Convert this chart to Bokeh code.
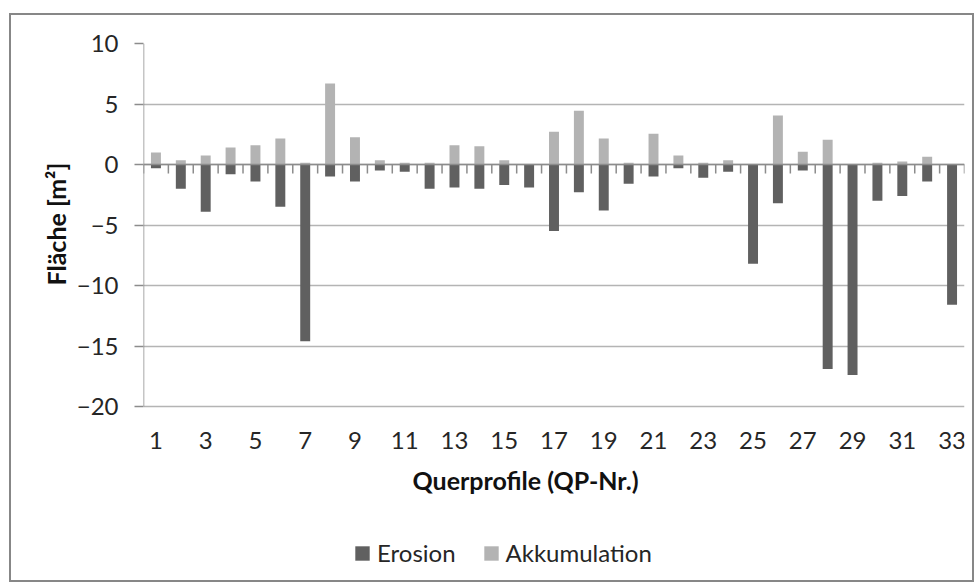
from bokeh.plotting import figure
from bokeh.models import (ColumnDataSource, Range1d, FixedTicker, Legend, LegendItem,
                          Title, Label)
from bokeh.embed import file_html
from bokeh.resources import INLINE

# ---- data ----
profiles = list(range(1, 34))
erosion = [-0.3, -2.0, -3.9, -0.8, -1.4, -3.5, -14.6, -1.0, -1.4, -0.5, -0.6, -2.0,
           -1.9, -2.0, -1.7, -1.9, -5.5, -2.3, -3.8, -1.6, -1.0, -0.3, -1.1, -0.6,
           -8.2, -3.2, -0.5, -16.9, -17.4, -3.0, -2.6, -1.4, -11.6]
akkumulation = [1.0, 0.35, 0.75, 1.4, 1.6, 2.15, 0.15, 6.7, 2.25, 0.35, 0.15, 0.15,
                1.6, 1.5, 0.35, 0.0, 2.7, 4.45, 2.15, 0.15, 2.55, 0.75, 0.15, 0.35,
                0.0, 4.05, 1.05, 2.05, 0.0, 0.15, 0.25, 0.65, 0.0]
y_ticks = [-20, -15, -10, -5, 0, 5, 10]
x_tick_labels = [p for p in profiles if p % 2 == 1]
y_min, y_max = -20, 10

FONT = "Lato"
DARK = "#606060"
LIGHT = "#b3b3b3"
AXIS = "#8c8c8c"
GRID = "#b4b4b4"

# layout (pixels, relative to the canvas' top-left corner)
OX, OY = 9, 13                  # where the chart box sits on the page
W, H = 965, 569
FRAME_L, FRAME_T, FRAME_R = 132, 28, 953
PLOT_B = 391                    # pixel row of y_min
FRAME_B = 565                   # frame extends below the value area to hold labels/legend
px_per_unit = (PLOT_B - FRAME_T) / (y_max - y_min)
y_start = y_min - (FRAME_B - PLOT_B) / px_per_unit
px_per_cat = (FRAME_R - FRAME_L) / len(profiles)

src = ColumnDataSource(dict(x=profiles, ero=erosion, akk=akkumulation))

p = figure(width=W, height=H, output_backend="svg", toolbar_location=None,
           x_range=Range1d(0.5, len(profiles) + 0.5), y_range=Range1d(y_start, y_max),
           min_border_left=FRAME_L, min_border_right=W - FRAME_R,
           min_border_top=FRAME_T, min_border_bottom=H - FRAME_B)
p.styles = {"border": "2px solid #878787",
            "margin-left": f"{OX}px", "margin-top": f"{OY}px"}
p.outline_line_color = None
p.background_fill_color = "white"
p.border_fill_color = "white"

# gridlines
p.xgrid.grid_line_color = None
p.ygrid.grid_line_color = GRID
p.ygrid.grid_line_width = 1.5

# bars
r_ero = p.vbar(x="x", top="ero", bottom=0, width=0.4, source=src,
               fill_color=DARK, line_color=None)
r_akk = p.vbar(x="x", top="akk", bottom=0, width=0.4, source=src,
               fill_color=LIGHT, line_color=None)

# category axis line at zero with tick marks between categories
x_lo, x_hi = profiles[0] - 0.5, profiles[-1] + 0.5
p.segment(x0=[x_lo], x1=[x_hi], y0=[0], y1=[0], line_color=AXIS, line_width=1.5)
bounds = [c - 0.5 for c in profiles] + [x_hi]
tick_len = 9 / px_per_unit
p.segment(x0=bounds, x1=bounds, y0=[0] * len(bounds), y1=[-tick_len] * len(bounds),
          line_color=AXIS, line_width=1.5)
# value axis line (only over the value range)
p.segment(x0=[x_lo], x1=[x_lo], y0=[y_min], y1=[y_max], line_color=AXIS, line_width=1.5)

# y axis
ya = p.yaxis[0]
ya.ticker = FixedTicker(ticks=y_ticks)
ya.axis_line_color = None
ya.major_tick_line_color = AXIS
ya.major_tick_line_width = 1.5
ya.major_tick_out = 9
ya.major_tick_in = 0
ya.minor_tick_line_color = None
ya.major_label_text_font = FONT
ya.major_label_text_font_size = "24px"
ya.major_label_text_color = "#262626"
ya.major_label_standoff = 16

ytitle = Title(text="Fläche [m²]", align="left", offset=FRAME_B - 270,
               text_font=FONT, text_font_size="25px", text_font_style="bold",
               text_color="#111111", standoff=6)
p.add_layout(ytitle, "left")

# x axis (labels only), pinned at the bottom of the value range
xa = p.xaxis[0]
xa.fixed_location = y_min
xa.ticker = FixedTicker(ticks=x_tick_labels)
xa.axis_line_color = None
xa.major_tick_line_color = None
xa.minor_tick_line_color = None
xa.major_tick_out = 0
xa.major_tick_in = 0
xa.major_label_text_font = FONT
xa.major_label_text_font_size = "24px"
xa.major_label_text_color = "#262626"
xa.major_label_standoff = 25

xtitle = Label(x=0.5 + (514 - FRAME_L) / px_per_cat,
               y=y_min - (464 - PLOT_B) / px_per_unit,
               text="Querprofile (QP-Nr.)", text_align="center", text_baseline="middle",
               text_font=FONT, text_font_size="25px", text_font_style="bold",
               text_color="#111111")
p.add_layout(xtitle)

legend = Legend(items=[LegendItem(label="Erosion", renderers=[r_ero]),
                       LegendItem(label="Akkumulation", renderers=[r_akk])],
                orientation="horizontal", location=(210, 13),
                label_text_font=FONT, label_text_font_size="24px",
                label_text_color="#262626", glyph_width=18, glyph_height=18,
                label_standoff=6, spacing=26, padding=0, margin=0,
                border_line_color=None, background_fill_alpha=0)
p.add_layout(legend, "center")

open("out.html", "w").write(file_html(p, INLINE))
